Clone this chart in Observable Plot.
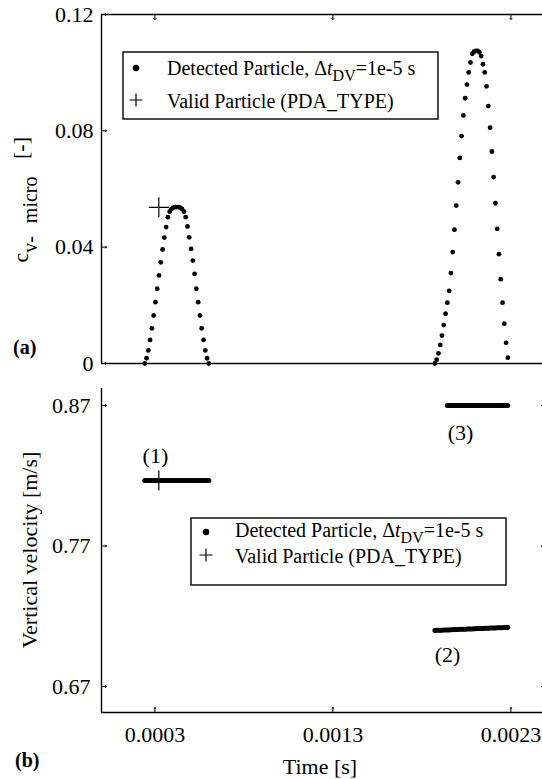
<!DOCTYPE html>
<html><head><meta charset="utf-8">
<script src="https://cdn.jsdelivr.net/npm/d3@7"></script>
<script src="https://cdn.jsdelivr.net/npm/@observablehq/plot@0.6"></script>
<style>
html,body{margin:0;padding:0;background:#fff;overflow:hidden;}
#wrap{position:relative;width:542px;height:779px;font-family:"Liberation Serif","Times New Roman",serif;color:#000;background:#fff;}
#wrap > svg, #wrap > div > svg{display:block;}
#topPlot{position:absolute;left:0;top:0;}
#botPlot{position:absolute;left:0;top:376px;}
#overlay{position:absolute;left:0;top:0;pointer-events:none;}
</style>
</head><body>
<div id="wrap">
  <div id="topPlot"></div>
  <div id="botPlot"></div>
  <svg id="overlay" width="542" height="779"></svg>
</div>
<script>
// ---------------- data ----------------
const DT = 1e-5;                       // sampling step of the detected particle (s)
const xTicks = [0.0003, 0.0013, 0.0023];
const cTicks = [0, 0.04, 0.08, 0.12];
const vTicks = [0.67, 0.77, 0.87];

// (a) particle concentration c_v-micro, peak 1
const peak1Start = 0.000243;
const peak1C = [0.0000, 0.0018, 0.0045, 0.0081, 0.0121, 0.0165, 0.0211, 0.0257, 0.0303, 0.0348,
  0.0392, 0.0433, 0.0469, 0.0503, 0.0522, 0.0531, 0.0536, 0.0538, 0.0538, 0.0538, 0.0536,
  0.0531, 0.0522, 0.0503, 0.0471, 0.0434, 0.0394, 0.0354, 0.0308, 0.0257, 0.0211, 0.0165,
  0.0121, 0.0081, 0.0045, 0.0018, 0.0000];
// peak 2
const peak2Start = 0.001873;
const peak2C = [0.0000, 0.0013, 0.0035, 0.0064, 0.0096, 0.0132, 0.0171, 0.0209, 0.0250, 0.0311,
  0.0383, 0.0460, 0.0543, 0.0623, 0.0707, 0.0782, 0.0853, 0.0912, 0.0959, 0.1001, 0.1035,
  0.1065, 0.1072, 0.1075, 0.1075, 0.1070, 0.1057, 0.1029, 0.1001, 0.0953, 0.0885, 0.0811,
  0.0729, 0.0641, 0.0551, 0.0463, 0.0376, 0.0290, 0.0209, 0.0137, 0.0071, 0.0020];

// (b) vertical velocity of the detected particles
const vel1Start = 0.000243;
const vel1 = [0.8166, 0.8166, 0.8166, 0.8166, 0.8166, 0.8166, 0.8166, 0.8166, 0.8166, 0.8166,
  0.8166, 0.8166, 0.8166, 0.8166, 0.8166, 0.8166, 0.8166, 0.8166, 0.8166, 0.8166, 0.8166,
  0.8166, 0.8166, 0.8166, 0.8166, 0.8166, 0.8166, 0.8166, 0.8166, 0.8166, 0.8166, 0.8166,
  0.8166, 0.8166, 0.8166, 0.8166, 0.8166];
const vel2Start = 0.001873;
const vel2 = [0.7099, 0.7100, 0.7100, 0.7101, 0.7101, 0.7102, 0.7102, 0.7103, 0.7103, 0.7104,
  0.7104, 0.7105, 0.7105, 0.7106, 0.7107, 0.7107, 0.7108, 0.7108, 0.7109, 0.7109, 0.7110,
  0.7110, 0.7111, 0.7111, 0.7112, 0.7112, 0.7113, 0.7113, 0.7114, 0.7115, 0.7115, 0.7116,
  0.7116, 0.7117, 0.7117, 0.7118, 0.7118, 0.7119, 0.7119, 0.7120, 0.7120, 0.7121];
const vel3Start = 0.001943;
const vel3 = [0.8700, 0.8700, 0.8700, 0.8700, 0.8700, 0.8700, 0.8700, 0.8700, 0.8700, 0.8700,
  0.8700, 0.8700, 0.8700, 0.8700, 0.8700, 0.8700, 0.8700, 0.8700, 0.8700, 0.8700, 0.8700,
  0.8700, 0.8700, 0.8700, 0.8700, 0.8700, 0.8700, 0.8700, 0.8700, 0.8700, 0.8700, 0.8700,
  0.8700, 0.8700, 0.8700];

// valid particle (PDA_TYPE)
const validT = [0.000322];
const validC = [0.0537];
const validV = [0.8166];

// particle labels in panel (b)
const labelText = ["(1)", "(2)", "(3)"];
const labelT = [0.000303, 0.001944, 0.002017];
const labelV = [0.8344, 0.6928, 0.8508];

// ---------------- build ----------------
const series = (start, vals) => vals.map((v, i) => ({t: start + i * DT, v}));
const p1 = series(peak1Start, peak1C);
const p2 = series(peak2Start, peak2C);
const s1 = series(vel1Start, vel1);
const s2 = series(vel2Start, vel2);
const s3 = series(vel3Start, vel3);
const valid = validT.map((t, i) => ({t, c: validC[i], v: validV[i]}));
const labels = labelText.map((text, i) => ({text, t: labelT[i], v: labelV[i]}));

const FONT = '"Liberation Serif", "Times New Roman", serif';
const X_DOMAIN = [0, 0.0025];
const X_RANGE = [101, 546];
const PLUS_R = 6.5;

// panel (a)
const C_DOMAIN = [0, 0.12];
const topPlot = Plot.plot({
  width: 542, height: 376,
  marginTop: 14, marginBottom: 13, marginLeft: 101, marginRight: 0,
  style: {fontFamily: FONT, fontSize: "22px", background: "transparent", color: "black"},
  x: {domain: X_DOMAIN, range: X_RANGE, axis: null},
  y: {domain: C_DOMAIN, range: [363, 14], label: null},
  marks: [
    Plot.axisY(cTicks, {tickSize: 0, tickPadding: 8, fontSize: 22, label: null, tickFormat: d => String(d)}),
    Plot.ruleY([C_DOMAIN[0]], {stroke: "black", strokeWidth: 1.4}),
    Plot.ruleY([C_DOMAIN[1]], {stroke: "black", strokeWidth: 1.4}),
    Plot.ruleX([X_DOMAIN[0]], {stroke: "black", strokeWidth: 1.4}),
    Plot.vector(cTicks, {x: () => X_DOMAIN[0], y: d => d, length: 5, rotate: 90, anchor: "start", stroke: "black", strokeWidth: 1}),
    Plot.vector(xTicks, {x: d => d, y: () => C_DOMAIN[1], length: 5, rotate: 180, anchor: "start", stroke: "black", strokeWidth: 1}),
    Plot.dot(p1, {x: "t", y: "v", r: 2.4, fill: "black", stroke: null}),
    Plot.dot(p2, {x: "t", y: "v", r: 2.4, fill: "black", stroke: null}),
    Plot.dot(valid, {x: "t", y: "c", symbol: "plus", r: PLUS_R, stroke: "black", strokeWidth: 1.2, fill: "none"})
  ]
});
document.getElementById("topPlot").appendChild(topPlot);

// panel (b)
const V_DOMAIN = [0.6515, 0.8821];
const botPlot = Plot.plot({
  width: 542, height: 403,
  marginTop: 12, marginBottom: 67, marginLeft: 101, marginRight: 0,
  style: {fontFamily: FONT, fontSize: "22px", background: "transparent", color: "black"},
  x: {domain: X_DOMAIN, range: X_RANGE, label: null},
  y: {domain: V_DOMAIN, range: [336, 12], label: null},
  marks: [
    Plot.axisY(vTicks, {tickSize: 0, tickPadding: 11, fontSize: 22, label: null, tickFormat: d => d.toFixed(2)}),
    Plot.axisX(xTicks, {tickSize: 0, tickPadding: 14, fontSize: 22, label: null, tickFormat: d => d.toFixed(4)}),
    Plot.ruleY([V_DOMAIN[0]], {stroke: "black", strokeWidth: 1.4}),
    Plot.ruleX([X_DOMAIN[0]], {stroke: "black", strokeWidth: 1.4}),
    Plot.vector(vTicks, {x: () => X_DOMAIN[0], y: d => d, length: 5, rotate: 90, anchor: "start", stroke: "black", strokeWidth: 1}),
    Plot.vector(vTicks, {x: () => X_DOMAIN[1], y: d => d, length: 5, rotate: -90, anchor: "start", stroke: "black", strokeWidth: 1}),
    Plot.vector(xTicks, {x: d => d, y: () => V_DOMAIN[0], length: 5, rotate: 0, anchor: "start", stroke: "black", strokeWidth: 1}),
    Plot.dot(s1, {x: "t", y: "v", r: 2.5, fill: "black", stroke: null}),
    Plot.dot(s2, {x: "t", y: "v", r: 2.5, fill: "black", stroke: null}),
    Plot.dot(s3, {x: "t", y: "v", r: 2.5, fill: "black", stroke: null}),
    Plot.dot(valid, {x: "t", y: "v", symbol: "plus", r: PLUS_R, stroke: "black", strokeWidth: 1.2, fill: "none"}),
    Plot.text(labels, {x: "t", y: "v", text: "text", fontSize: 22, fill: "black"})
  ]
});
document.getElementById("botPlot").appendChild(botPlot);

// ---------------- overlay: titles, panel tags, legends ----------------
const ov = d3.select("#overlay").style("font-family", FONT);
ov.append("text").attr("x", 13).attr("y", 354).attr("font-size", 20).attr("font-weight", "bold").text("(a)");
ov.append("text").attr("x", 15).attr("y", 767).attr("font-size", 20).attr("font-weight", "bold").text("(b)");
ov.append("text").attr("x", 320).attr("y", 774).attr("font-size", 22).attr("text-anchor", "middle").text("Time [s]");
ov.append("text").attr("transform", "translate(37,550) rotate(-90)").attr("font-size", 22)
  .attr("text-anchor", "middle").text("Vertical velocity [m/s]");
const cl = ov.append("text").attr("transform", "translate(28,137) rotate(-90)").attr("font-size", 22)
  .attr("text-anchor", "end").attr("xml:space", "preserve");
cl.append("tspan").text("c");
cl.append("tspan").attr("font-size", 20).attr("dy", 9).attr("word-spacing", 8).text("v- micro");
cl.append("tspan").attr("dy", -9).attr("dx", 12).text(" [-]");

function legend(x, y, w, h, sym, row1, row2) {
  const g = ov.append("g").attr("transform", `translate(${x},${y})`);
  g.append("rect").attr("width", w).attr("height", h).attr("fill", "white").attr("stroke", "black").attr("stroke-width", 1.4);
  g.append("circle").attr("cx", sym[0]).attr("cy", row1[0]).attr("r", 3.3).attr("fill", "black");
  g.append("path").attr("d", `M${sym[0]-6.5},${row2[0]}H${sym[0]+6.5}M${sym[0]},${row2[0]-6.5}V${row2[0]+6.5}`)
    .attr("stroke", "black").attr("stroke-width", 1.2);
  const t1 = g.append("text").attr("x", sym[1]).attr("y", row1[1]).attr("font-size", 20);
  t1.append("tspan").text("Detected Particle, \u0394");
  t1.append("tspan").attr("font-style", "italic").text("t");
  t1.append("tspan").attr("dy", 6).attr("font-size", 16).text("DV");
  t1.append("tspan").attr("dy", -6).text("=1e-5 s");
  g.append("text").attr("x", sym[1]).attr("y", row2[1]).attr("font-size", 20).text("Valid Particle (PDA_TYPE)");
}
legend(123, 52, 315, 67, [13, 44], [16, 23], [48, 56]);
legend(191, 518, 315, 67, [15, 44], [14, 19], [37, 45]);
</script>
</body></html>
